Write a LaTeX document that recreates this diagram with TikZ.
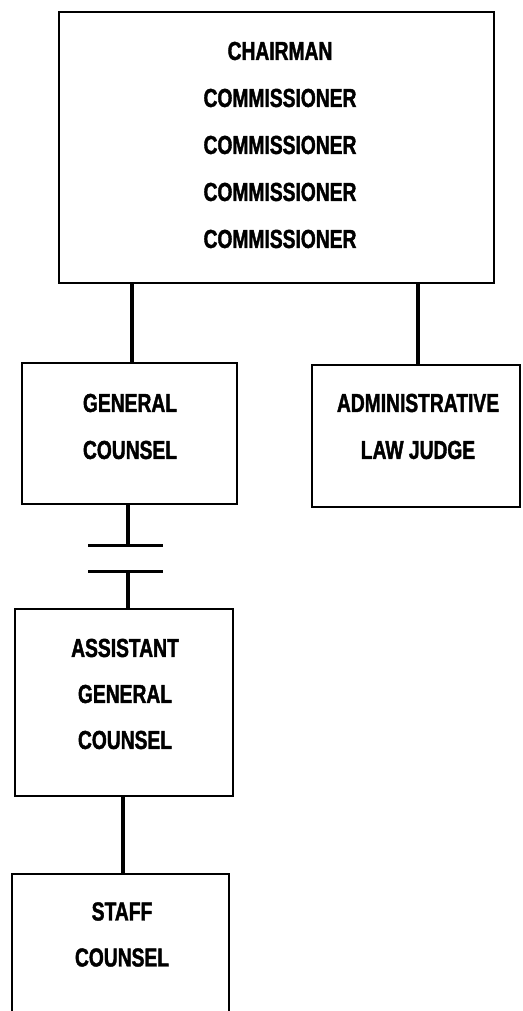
\documentclass[tikz,border=0pt]{standalone}
\usepackage{fontspec}
\newfontfamily\lab[FakeStretch=0.74,FakeBold=1.5]{Liberation Sans Bold}
\begin{document}
\begin{tikzpicture}[x=1pt,y=-1pt,
  box/.style={draw,line width=2pt,inner sep=0pt},
  lbl/.style={align=center,inner sep=0pt,font=\lab\fontsize{26}{46}\selectfont},
  conn/.style={line width=3.5pt}]
\clip (0,0) rectangle (522,1011);
\fill[white] (0,0) rectangle (522,1011);
% boxes
\node[box,minimum width=435pt,minimum height=271pt] (top) at (276.5,147.5) {};
\node[box,minimum width=215pt,minimum height=141pt] (gc) at (129.5,433.5) {};
\node[box,minimum width=208pt,minimum height=142pt] (alj) at (416,436) {};
\node[box,minimum width=218pt,minimum height=187pt] (agc) at (124,702.5) {};
\node[box,minimum width=217pt,minimum height=200pt] (staff) at (120.5,974) {};
% labels
\node[lbl,font=\lab\fontsize{26}{47}\selectfont] (topt) at (280,145) {CHAIRMAN\\COMMISSIONER\\COMMISSIONER\\COMMISSIONER\\COMMISSIONER};
\node[lbl,font=\lab\fontsize{26}{47}\selectfont] (gct) at (130,426.5) {GENERAL\\COUNSEL};
\node[lbl,font=\lab\fontsize{26}{47}\selectfont] (aljt) at (418,426.5) {ADMINISTRATIVE\\LAW JUDGE};
\node[lbl] (agct) at (125,694) {ASSISTANT\\GENERAL\\COUNSEL};
\node[lbl] (stafft) at (122,934.5) {STAFF\\COUNSEL};
% connectors
\coordinate (c1) at (132,0);
\coordinate (c2) at (418,0);
\draw[conn] (top.south -| c1) -- (gc.north -| c1);
\draw[conn] (top.south -| c2) -- (alj.north -| c2);
\coordinate (b1) at (128,545);
\coordinate (b2) at (128,571);
\draw[conn] (gc.south -| b1) -- (b1);
\draw[conn] (b2) -- (agc.north -| b2);
\draw[line width=3pt] ([xshift=-40pt]b1) -- ([xshift=35pt]b1);
\draw[line width=3pt] ([xshift=-40pt]b2) -- ([xshift=35pt]b2);
\draw[conn] (agc.south -| 123,0) -- (staff.north -| 123,0);
\end{tikzpicture}
\end{document}
